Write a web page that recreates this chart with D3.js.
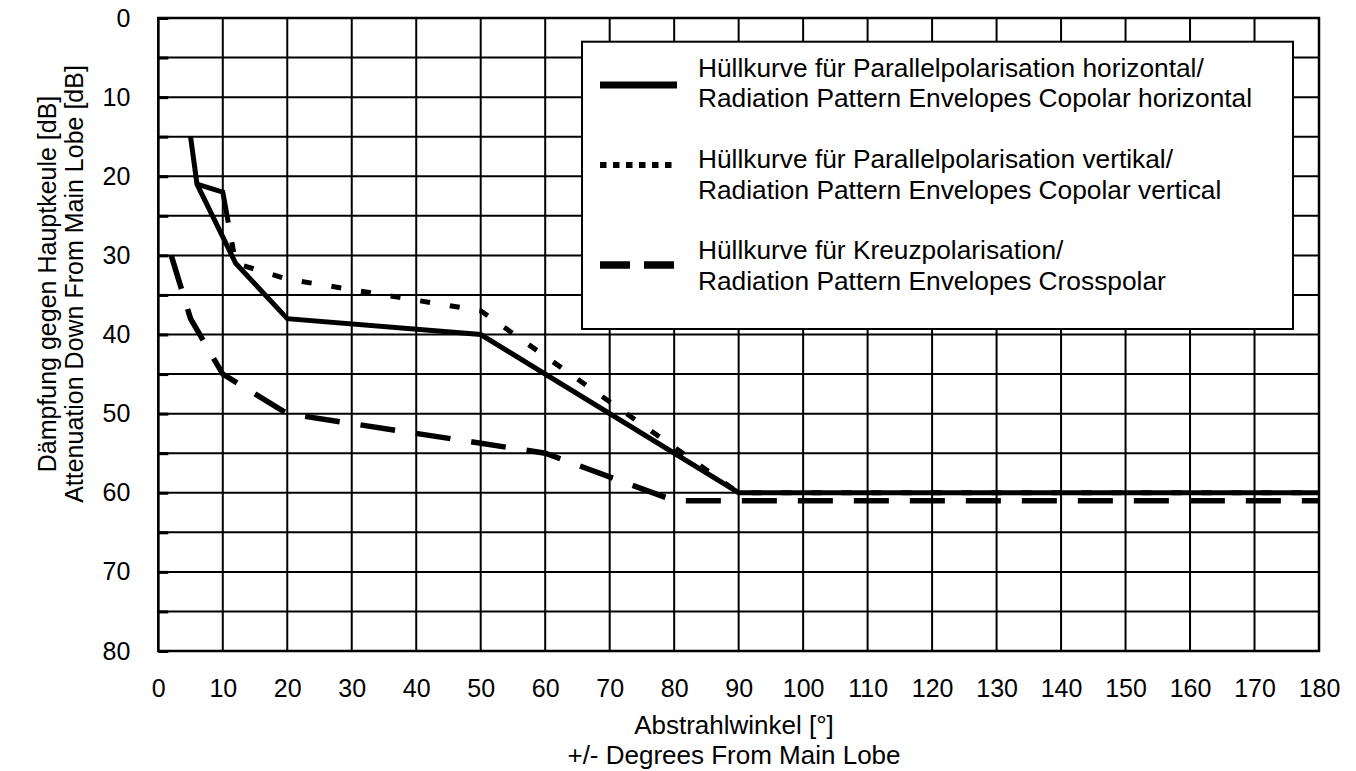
<!DOCTYPE html>
<html>
<head>
<meta charset="utf-8">
<script src="https://cdn.jsdelivr.net/npm/d3@7"></script>
<style>
  html, body { margin: 0; padding: 0; background: #fff; }
  svg { display: block; font-family: "Liberation Sans", Arial, Helvetica, sans-serif; }
</style>
</head>
<body>
<svg id="chart" width="1356" height="771"></svg>
<script>
// Axis ticks
const xTicks = d3.range(0, 181, 10);      // degrees
const yGridTicks = d3.range(0, 81, 5);    // dB grid
const yLabelTicks = d3.range(0, 81, 10);  // dB labels

// Envelope curves: [angle in degrees, attenuation in dB]
const copolarHorizontal = [[5, 15], [6, 21], [12, 31], [20, 38], [50, 40], [90, 60], [180, 60]];
const copolarVertical   = [[6, 21], [10, 22], [12, 31], [20, 33], [50, 37], [90, 60], [180, 60]];
const crosspolar        = [[2, 30], [5, 38], [10, 45], [20, 50], [60, 55], [80, 61], [180, 61]];

// Legend entries
const legendTexts = [
  ["Hüllkurve für Parallelpolarisation horizontal/", "Radiation Pattern Envelopes Copolar horizontal"],
  ["Hüllkurve für Parallelpolarisation vertikal/", "Radiation Pattern Envelopes Copolar vertical"],
  ["Hüllkurve für Kreuzpolarisation/", "Radiation Pattern Envelopes Crosspolar"]
];

const svg = d3.select("#chart");
const plot = { left: 158.3, top: 18, right: 1319, bottom: 651 };

const x = d3.scaleLinear().domain([0, 180]).range([plot.left, plot.right]);
const y = d3.scaleLinear().domain([0, 80]).range([plot.top, plot.bottom]);

// Grid
const grid = svg.append("g").attr("stroke", "#000").attr("stroke-width", 2);
grid.selectAll("line.v").data(xTicks).join("line")
  .attr("class", "v")
  .attr("x1", d => x(d)).attr("x2", d => x(d))
  .attr("y1", plot.top).attr("y2", plot.bottom);
grid.selectAll("line.h").data(yGridTicks).join("line")
  .attr("class", "h")
  .attr("x1", plot.left).attr("x2", plot.right)
  .attr("y1", d => y(d)).attr("y2", d => y(d));

// Short inner ticks on the left edge
svg.append("g")
  .attr("transform", `translate(${plot.left},0)`)
  .call(d3.axisLeft(y).tickValues(yGridTicks).tickSize(-10).tickFormat(""))
  .call(g => g.select(".domain").remove())
  .call(g => g.selectAll("line").attr("stroke", "#000").attr("stroke-width", 3));

// Frame
svg.append("rect")
  .attr("x", plot.left).attr("y", plot.top)
  .attr("width", plot.right - plot.left).attr("height", plot.bottom - plot.top)
  .attr("fill", "none").attr("stroke", "#000").attr("stroke-width", 2.5);

// Tick labels
svg.append("g")
  .attr("transform", `translate(0,${plot.bottom})`)
  .call(d3.axisBottom(x).tickValues(xTicks).tickSize(0).tickPadding(28).tickFormat(d3.format("d")))
  .call(g => g.select(".domain").remove())
  .call(g => g.selectAll("text").attr("font-size", 25).attr("fill", "#000")
    .attr("font-family", "Liberation Sans, Arial, sans-serif"));

svg.append("g")
  .attr("transform", `translate(${plot.left},0)`)
  .call(d3.axisLeft(y).tickValues(yLabelTicks).tickSize(0).tickPadding(28).tickFormat(d3.format("d")))
  .call(g => g.select(".domain").remove())
  .call(g => g.selectAll("text").attr("font-size", 25).attr("fill", "#000")
    .attr("font-family", "Liberation Sans, Arial, sans-serif"));

// Axis titles
const xTitle = svg.append("text").attr("text-anchor", "middle").attr("font-size", 26).attr("fill", "#000");
xTitle.append("tspan").attr("x", 734).attr("y", 734).text("Abstrahlwinkel [°]");
xTitle.append("tspan").attr("x", 734).attr("y", 763.5).text("+/- Degrees From Main Lobe");

const yTitle = svg.append("text").attr("text-anchor", "middle").attr("font-size", 25).attr("fill", "#000")
  .attr("transform", "translate(0,284) rotate(-90)");
yTitle.append("tspan").attr("x", 0).attr("y", 56).text("Dämpfung gegen Hauptkeule [dB]");
yTitle.append("tspan").attr("x", 0).attr("y", 83).text("Attenuation Down From Main Lobe [dB]");

// Legend
const legend = svg.append("g");
legend.append("rect")
  .attr("x", 582).attr("y", 41.7).attr("width", 711).attr("height", 287.3)
  .attr("fill", "#fff").attr("stroke", "#000").attr("stroke-width", 2);

const sampleStyles = [
  { y: 85, dash: null, w: 7 },
  { y: 165, dash: "6.5,6.5", w: 6 },
  { y: 265, dash: "30,14", w: 7.5 }
];
const textBaselines = [[76.7, 107.3], [168.3, 199], [259.3, 290]];

sampleStyles.forEach((s, i) => {
  legend.append("line")
    .attr("x1", 600).attr("x2", 677).attr("y1", s.y).attr("y2", s.y)
    .attr("stroke", "#000").attr("stroke-width", s.w)
    .attr("stroke-dasharray", s.dash);
  const t = legend.append("text").attr("font-size", 26.3).attr("fill", "#000");
  legendTexts[i].forEach((line, j) => {
    t.append("tspan").attr("x", 698).attr("y", textBaselines[i][j]).text(line);
  });
});

// Curves
const line = d3.line().x(d => x(d[0])).y(d => y(d[1]));
const curves = svg.append("g").attr("fill", "none").attr("stroke", "#000")
  .attr("stroke-linejoin", "miter").attr("stroke-linecap", "butt");

curves.append("path").datum(crosspolar)
  .attr("d", line).attr("stroke-width", 5.5)
  .attr("stroke-dasharray", "35,21");

curves.append("path").datum(copolarHorizontal)
  .attr("d", line).attr("stroke-width", 5);

const vPath = curves.append("path").datum(copolarVertical)
  .attr("d", line).attr("stroke-width", 5);
// leading continuous stroke, then short dots
const vLen = vPath.node().getTotalLength();
const vDash = [58, 20];
while (d3.sum(vDash) < vLen + 40) vDash.push(10, 20);
vPath.attr("stroke-dasharray", vDash.join(","));
</script>
</body>
</html>
